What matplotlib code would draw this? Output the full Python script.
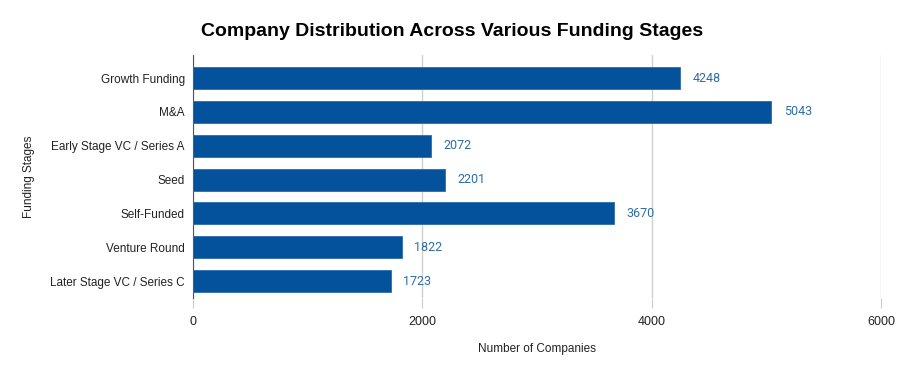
import matplotlib.pyplot as plt

stages = ["Growth Funding", "M&A", "Early Stage VC / Series A", "Seed",
          "Self-Funded", "Venture Round", "Later Stage VC / Series C"]
companies = [4248, 5043, 2072, 2201, 3670, 1822, 1723]
xticks = [0, 2000, 4000, 6000]

plt.rcParams['font.family'] = ['Liberation Sans', 'DejaVu Sans']

fig = plt.figure(figsize=(9, 3.74), dpi=100)
ax = fig.add_axes([193 / 900, 1 - 298 / 374, 688 / 900, 243 / 374])

pos = list(range(len(stages)))
ax.barh(pos, companies, height=0.65, color='#03529b', edgecolor='#2a6cb0', linewidth=0.6, zorder=3)

# value labels at the end of each bar
for p, v in zip(pos, companies):
    ax.annotate(str(v), (v, p), xytext=(9, 0), textcoords='offset points',
                va='center', ha='left', fontsize=9, color='#2e6da4',
                family=['Roboto', 'DejaVu Sans'])

ax.set_yticks(pos)
ax.set_yticklabels(stages)
ax.set_ylim(6.5, -0.68)
ax.set_xlim(0, 6000)
ax.set_xticks(xticks)
ax.set_xticklabels([str(t) for t in xticks])

ax.grid(axis='x', color='#d0d0d0', linewidth=1, zorder=0)
for s in ['top', 'right', 'bottom']:
    ax.spines[s].set_visible(False)
ax.spines['left'].set_color('#555555')
ax.tick_params(axis='y', length=0, pad=6, labelsize=8.5, labelcolor='#222222')
ax.tick_params(axis='x', length=7, color='#cccccc', pad=6, labelsize=9, labelcolor='#222222')

ax.set_xlabel("Number of Companies", fontsize=8.5, color='#222222', labelpad=11)
ax.set_ylabel("Funding Stages", fontsize=8.5, color='#222222', labelpad=11)
fig.suptitle("Company Distribution Across Various Funding Stages", fontsize=14,
             fontweight='bold', x=0.502, y=1 - 23 / 374, va='top')

fig.savefig("out.png", dpi=100)
